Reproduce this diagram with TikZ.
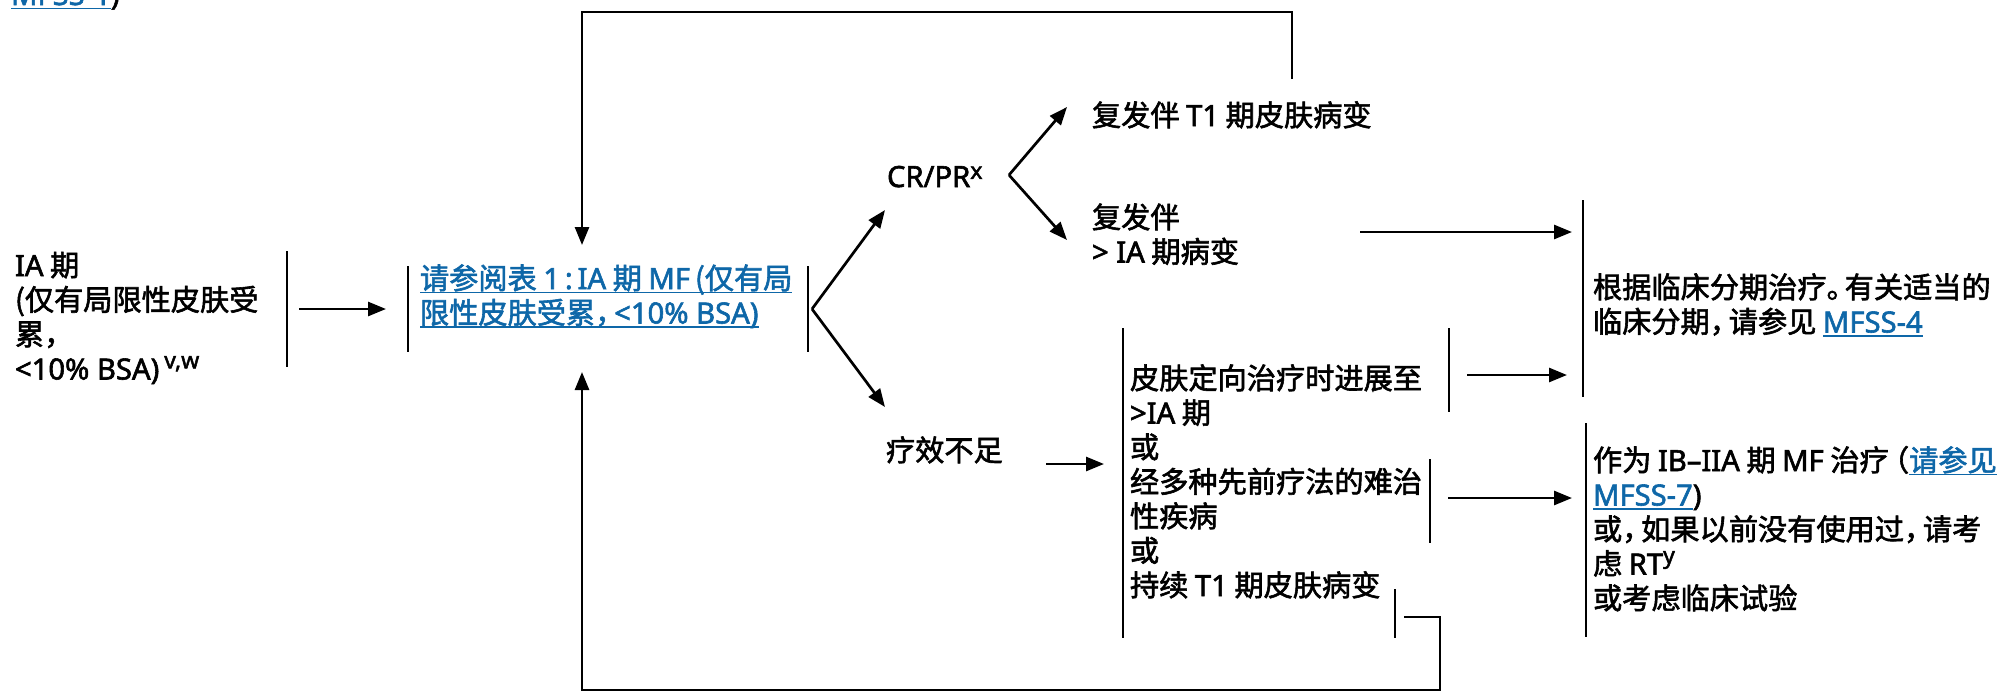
\documentclass[tikz,border=0pt]{standalone}
\usepackage{fontspec}
\setmainfont{Noto Sans CJK SC}[FakeBold=2]
\newfontfamily\lat{Noto Sans}[FakeBold=2]
\usetikzlibrary{arrows.meta}
\definecolor{linkblue}{HTML}{0E67A8}
\newcommand\lk[1]{\setbox0\hbox{{\color{linkblue}#1}}\rlap{{\color{linkblue}\rule[-2.1pt]{\wd0}{0.7pt}}}\box0}
\newcommand\supx[2][0.38em]{\raisebox{#1}{{\lat\fontsize{11.5pt}{11.5pt}\selectfont #2}}}
\newcommand\cm{\makebox[0.65em][l]{，}}
\newcommand\pd{\makebox[0.62em][l]{。}}
\newcommand\mystack[1]{\vtop{\baselineskip=17.25pt\lineskiplimit=-100pt\lineskip=0pt\halign{##\hfil\cr #1\crcr}}}
\begin{document}
\begin{tikzpicture}[x=0.5pt,y=-0.5pt,
  txt/.style={anchor=base west,inner sep=0pt,outer sep=0pt,font=\fontsize{14.6pt}{17.25pt}\selectfont},
  ln/.style={line width=1.35pt},
  arr/.style={line width=1.35pt,-{Triangle[length=9pt,width=7pt]}}]
\useasboundingbox (0,0) rectangle (1997,691);

% ---------- text nodes ----------
\node[txt] (prev) at (11,5) {\lk{\lat MFSS-1}\lat )};
\node[txt] (ia) at (15,276) {\mystack{{\lat IA} 期\cr
  (仅有局限性皮肤受\cr
  累\cm\cr
  {\lat <10\% BSA)}\,\supx{v,w}\cr}};
\node[txt] (tbl) at (420,289) {\mystack{\lk{请参阅表 {\lat 1\,:\,IA} 期 {\lat MF}\,(仅有局}\cr
  \lk{限性皮肤受累\cm{\lat <10\% BSA)}}\cr}};
\node[txt] (cr) at (887,187) {{\lat CR/PR}\supx[0.28em]{x}};
\node[txt] (rel1) at (1092,126) {复发伴 {\lat T1} 期皮肤病变};
\node[txt] (rel2) at (1092,228) {\mystack{复发伴\cr {\lat > IA} 期病变\cr}};
\node[txt] (stage) at (1593,298) {\mystack{根据临床分期治疗\pd 有关适当的\cr
  临床分期\cm 请参见 \lk{\lat MFSS-4}\cr}};
\node[txt] (inad) at (886,461) {疗效不足};
\node[txt] (mid) at (1130,389) {\mystack{皮肤定向治疗时进展至\cr
  {\lat >IA} 期\cr
  或\cr
  经多种先前疗法的难治\cr
  性疾病\cr
  或\cr
  持续 {\lat T1} 期皮肤病变\cr}};
\node[txt] (ib) at (1593,471) {\mystack{作为 {\lat IB–IIA} 期 {\lat MF} 治疗\makebox[0.7em][r]{（}\lk{请参见\,}\cr
  \lk{\lat MFSS-7}{\lat )}\cr
  或\cm 如果以前没有使用过\cm 请考\cr
  虑 {\lat RT}\supx{y}\cr
  或考虑临床试验\cr}};

% ---------- bracket coordinates ----------
\coordinate (iaR1) at (287,251);   \coordinate (iaR2) at (287,367);
\coordinate (tblL1) at (408,266);  \coordinate (tblL2) at (408,352);
\coordinate (tblR1) at (808,266);  \coordinate (tblR2) at (808,352);
\coordinate (stL1) at (1583,200);  \coordinate (stL2) at (1583,397);
\coordinate (midL1) at (1123,328); \coordinate (midL2) at (1123,638);
\coordinate (m1R1) at (1449,328);  \coordinate (m1R2) at (1449,412);
\coordinate (m2R1) at (1430,459);  \coordinate (m2R2) at (1430,543);
\coordinate (m3R1) at (1395,589);  \coordinate (m3R2) at (1395,638);
\coordinate (ibL1) at (1586,423);  \coordinate (ibL2) at (1586,637);

\foreach \p in {iaR,tblL,tblR,stL,midL,m1R,m2R,m3R,ibL}
  \draw[ln] (\p1) -- (\p2);

% ---------- connector coordinates ----------
\coordinate (a1s) at (299,309);   \coordinate (a1e) at (386,309);
\coordinate (brA) at (812,309);
\coordinate (toCR) at (885,210);  \coordinate (toIN) at (885,407);
\coordinate (brB) at (1009,175);
\coordinate (toR1) at (1067,107); \coordinate (toR2) at (1067,240);
\coordinate (r2s) at (1360,232);  \coordinate (r2e) at (1572,232);
\coordinate (ins) at (1046,464);  \coordinate (ine) at (1104,464);
\coordinate (m1s) at (1467,375);  \coordinate (m1e) at (1567,375);
\coordinate (m2s) at (1448,498);  \coordinate (m2e) at (1572,498);
\coordinate (tpA) at (1292,79);   \coordinate (tpB) at (1292,12);
\coordinate (tpC) at (582,12);    \coordinate (tpD) at (582,245);
\coordinate (btA) at (1404,617);  \coordinate (btB) at (1440,617);
\coordinate (btC) at (1440,690);  \coordinate (btD) at (582,690);
\coordinate (btE) at (582,372);

\draw[arr] (a1s) -- (a1e);
\draw[arr] (brA) -- (toCR);
\draw[arr] (brA) -- (toIN);
\draw[arr] (brB) -- (toR1);
\draw[arr] (brB) -- (toR2);
\draw[arr] (r2s) -- (r2e);
\draw[arr] (ins) -- (ine);
\draw[arr] (m1s) -- (m1e);
\draw[arr] (m2s) -- (m2e);
\draw[arr] (tpA) -- (tpB) -- (tpC) -- (tpD);
\draw[arr] (btA) -- (btB) -- (btC) -- (btD) -- (btE);
\end{tikzpicture}
\end{document}
